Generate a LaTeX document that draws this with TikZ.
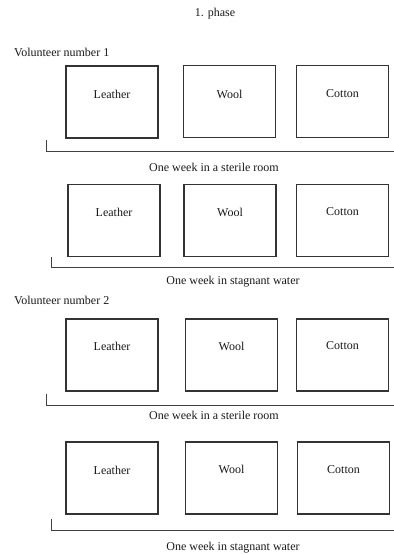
\documentclass[tikz,border=0pt]{standalone}
\usepackage{fontspec}
\setmainfont{Liberation Serif}
\begin{document}
\begin{tikzpicture}[x=1pt,y=-1pt,
  every node/.style={font=\fontsize{12}{14}\selectfont, text=black!90, inner sep=0pt},
  sample/.style={draw=black!80, line width=1.1pt, minimum width=92pt, minimum height=72pt},
  bracket/.style={draw=black!75, line width=1pt},
  heading/.style={anchor=west}]
\useasboundingbox (0,0) rectangle (394,555);
\node (title) at (215,14) {1. phase};
\node[heading] (v1) at (14,52) {Volunteer number 1};
\node[heading] (v2) at (14,300) {Volunteer number 2};
% row 1
\node[sample] (a1) at (112,102) {};
\node[sample] (b1) at (229.5,101.5) {};
\node[sample] (c1) at (342.5,101.5) {};
\node (ta1) at (112,94) {Leather};
\node (tb1) at (229.5,94) {Wool};
\node (tc1) at (342.5,94) {Cotton};
\coordinate (p1) at (46,140); \coordinate (q1) at (46,151); \coordinate (r1) at (394,151);
\draw[bracket] (p1) -- (q1) -- (r1);
\node (s1) at (214,167) {One week in a sterile room};
% row 2
\node[sample] (a2) at (114,220.5) {};
\node[sample] (b2) at (230,220.5) {};
\node[sample] (c2) at (342.5,220.5) {};
\node (ta2) at (114,212) {Leather};
\node (tb2) at (230,212) {Wool};
\node (tc2) at (342.5,212) {Cotton};
\coordinate (p2) at (51,257); \coordinate (q2) at (51,267); \coordinate (r2) at (394,267);
\draw[bracket] (p2) -- (q2) -- (r2);
\node (s2) at (233,282) {One week in stagnant water};
% row 3
\node[sample] (a3) at (112,355) {};
\node[sample] (b3) at (231.5,355) {};
\node[sample] (c3) at (342.5,355) {};
\node (ta3) at (112,346) {Leather};
\node (tb3) at (231.5,346) {Wool};
\node (tc3) at (342.5,346) {Cotton};
\coordinate (p3) at (46,394); \coordinate (q3) at (46,405); \coordinate (r3) at (394,405);
\draw[bracket] (p3) -- (q3) -- (r3);
\node (s3) at (214,415) {One week in a sterile room};
% row 4
\node[sample] (a4) at (112,478) {};
\node[sample] (b4) at (231.5,478) {};
\node[sample] (c4) at (343.5,478) {};
\node (ta4) at (112,470) {Leather};
\node (tb4) at (231.5,469) {Wool};
\node (tc4) at (343.5,470) {Cotton};
\coordinate (p4) at (51,519); \coordinate (q4) at (51,530); \coordinate (r4) at (394,530);
\draw[bracket] (p4) -- (q4) -- (r4);
\node (s4) at (233,548) {One week in stagnant water};
\end{tikzpicture}
\end{document}
